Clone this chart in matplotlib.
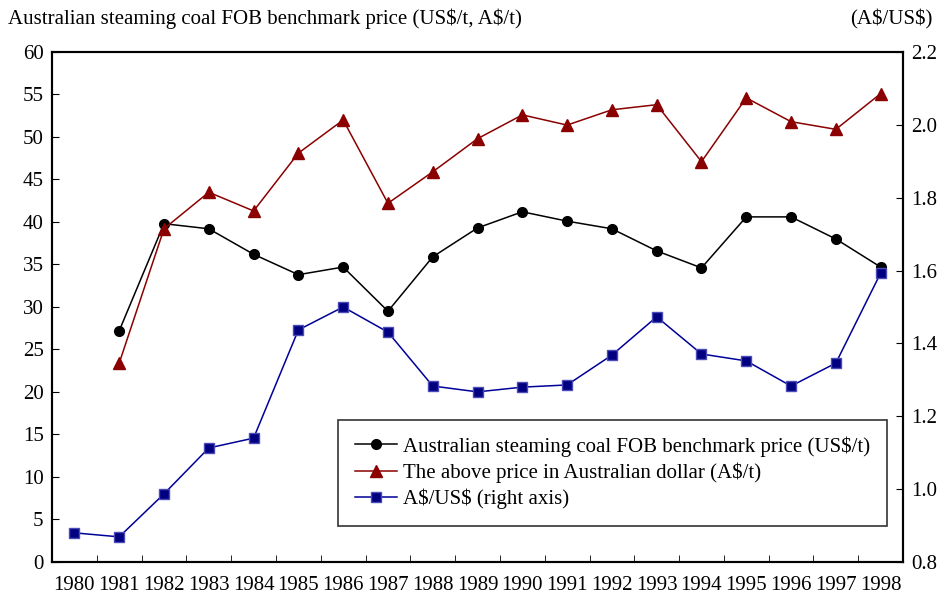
import matplotlib
matplotlib.use("Agg")
import matplotlib.pyplot as plt
import numpy as np

plt.rcParams["font.family"] = ["Liberation Serif", "DejaVu Serif"]

# dados
anos = [str(a) for a in range(1980, 1999)]
preco_usd = [None, 27.2, 39.8, 39.2, 36.2, 33.8, 34.7, 29.5, 35.9, 39.3,
             41.2, 40.1, 39.2, 36.6, 34.6, 40.6, 40.6, 38.0, 34.7]
preco_aud = [None, 23.4, 39.2, 43.5, 41.3, 48.1, 52.0, 42.2, 45.9, 49.8,
             52.6, 51.4, 53.2, 53.8, 47.1, 54.6, 51.8, 50.9, 55.1]
cambio = [0.88, 0.869, 0.987, 1.113, 1.14, 1.437, 1.50, 1.431, 1.283, 1.267,
          1.28, 1.286, 1.368, 1.473, 1.371, 1.352, 1.283, 1.346, 1.593]

x = np.arange(len(anos))
usd = np.array([np.nan if v is None else v for v in preco_usd])
aud = np.array([np.nan if v is None else v for v in preco_aud])

fig = plt.figure(figsize=(9.39, 6.01), dpi=100)
ax = fig.add_axes([0.0554, 0.0649, 0.9063, 0.8486])
ax2 = ax.twinx()

l1, = ax.plot(x, usd, color="black", marker="o", markersize=7, lw=1.1,
              label="Australian steaming coal FOB benchmark price (US\\$/t)")
l2, = ax.plot(x, aud, color="#8b0000", marker="^", markersize=8, lw=1.1,
              label="The above price in Australian dollar (A\\$/t)")
l3, = ax2.plot(x, cambio, color="#000099", marker="s", markersize=6.5, lw=1.1,
               markeredgecolor="#4b4bb8", markerfacecolor="#000080",
               label="A\\$/US\\$ (right axis)")

ax.set_xlim(-0.5, len(anos) - 0.5)
ax.set_ylim(0, 60)
ax.set_yticks(range(0, 61, 5))
ax2.set_ylim(0.8, 2.2)
ax2.set_yticks([0.8, 1.0, 1.2, 1.4, 1.6, 1.8, 2.0, 2.2])
ax2.set_yticklabels(["0.8", "1.0", "1.2", "1.4", "1.6", "1.8", "2.0", "2.2"])

ax.set_xticks(x)
ax.set_xticklabels(anos)
ax.set_xticks(np.arange(-0.5, len(anos), 1), minor=True)
ax.tick_params(axis="x", which="major", length=0, pad=10, labelsize=15)
ax.tick_params(axis="x", which="minor", direction="in", length=5)
ax.tick_params(axis="y", direction="in", length=5, labelsize=15, pad=6)
ax2.tick_params(axis="y", direction="in", length=5, labelsize=15, pad=6)

for a in (ax, ax2):
    for s in a.spines.values():
        s.set_linewidth(1.5)

fig.text(0.008, 0.968, "Australian steaming coal FOB benchmark price (US\\$/t, A\\$/t)",
         fontsize=15, ha="left", va="center")
fig.text(0.993, 0.968, "(A\\$/US\\$)", fontsize=15, ha="right", va="center")

leg = ax.legend(handles=[l1, l2, l3], loc="lower right",
                bbox_to_anchor=(0.993, 0.05), fontsize=15, frameon=True,
                fancybox=False, edgecolor="black", handlelength=2.0,
                handletextpad=0.3, borderpad=0.8, labelspacing=0.28)
leg.get_frame().set_linewidth(1.2)

fig.savefig("out.png", dpi=100)
